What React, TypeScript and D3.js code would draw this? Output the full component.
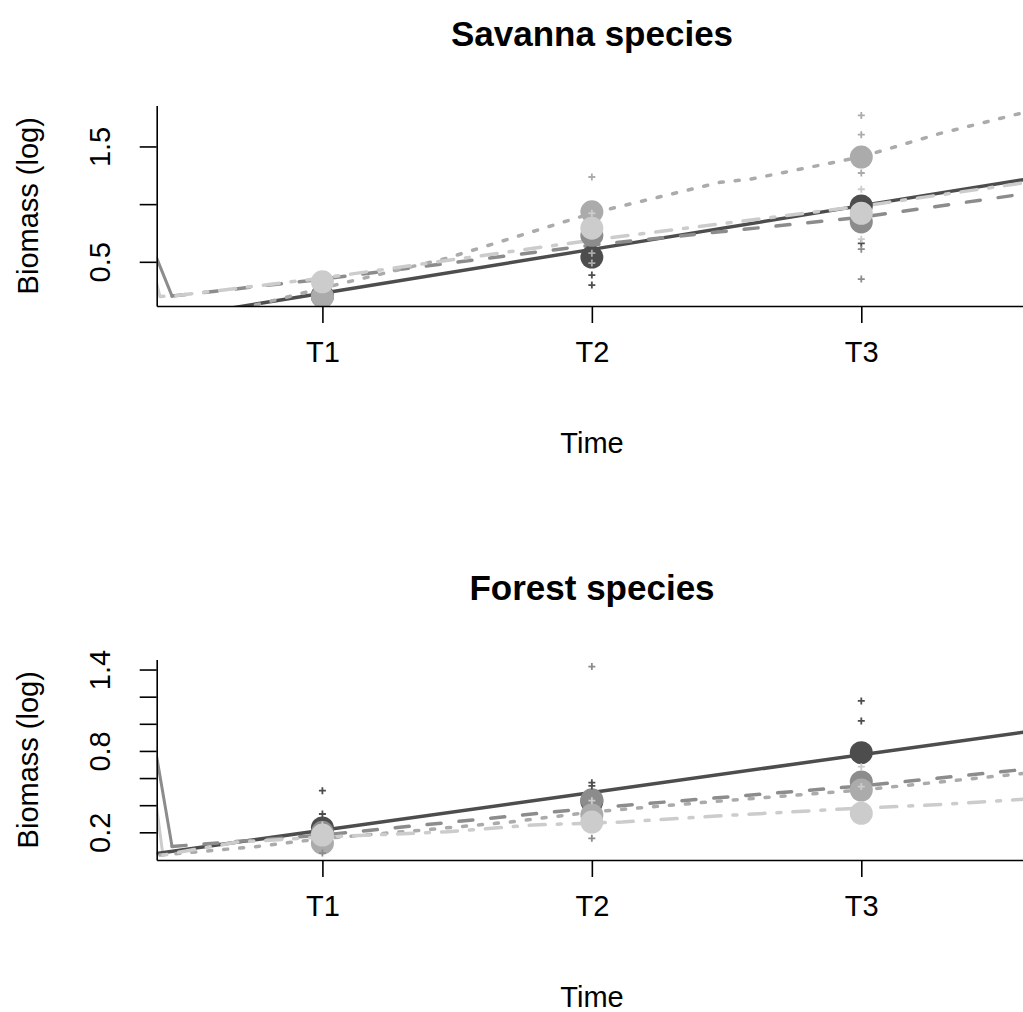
import React from "react";
import * as d3 from "d3";

type Pt = [number, number];

const timeValues = [1, 2, 3];
const timeLabels = ["T1", "T2", "T3"];
const xDomain = [0.385, 3.615];

// series order: dark solid, mid dashed, grey dotted, light dash-dot
const seriesColors = ["#4D4D4D", "#8C8C8C", "#ABABAB", "#CCCCCC"];
const seriesDash = [null, "14 18", "4 12", "4 12 16 12"];

// ---- Savanna species ----
const savannaTicks = [0.5, 1, 1.5];
const savannaTickLabels = ["0.5", "", "1.5"];

const savDarkLine: Pt[] = [[0.55, 0.057], [1, 0.228], [2, 0.608], [3, 0.987], [3.62, 1.219]];
const savMidLine: Pt[] = [[0.442, 0.203], [1, 0.35], [2, 0.645], [3, 0.887], [3.62, 1.094]];
const savDotLine: Pt[] = [[0.694, 0.091], [1, 0.272], [1.463, 0.532], [2, 0.921], [2.477, 1.19], [2.588, 1.216], [3, 1.41], [3.293, 1.613], [3.62, 1.804]];
const savLightLine: Pt[] = [[0.397, 0.2], [0.442, 0.203], [1, 0.359], [2, 0.688], [2.526, 0.843], [3, 0.982], [3.62, 1.19]];
// solid lead-in segments at the left edge
const savMidLead: Pt[] = [[0.385, 0.532], [0.442, 0.203]];
const savLightLead: Pt[] = [[0.385, 0.31], [0.397, 0.2]];

const savDarkMeans = [0.21, 0.541, 0.984];
const savMidMeans = [0.2, 0.73, 0.846];
const savDotMeans = [0.197, 0.933, 1.408];
const savLightMeans = [0.327, 0.792, 0.921];

const savDarkRaw: Pt[] = [[2, 0.385], [2, 0.298], [3, 0.659]];
const savMidRaw: Pt[] = [[3, 0.61], [3, 0.35]];
const savDotRaw: Pt[] = [[2, 1.235], [2, 0.575], [2, 0.489], [3, 1.769], [3, 1.602], [3, 1.27]];
const savLightRaw: Pt[] = [[2, 0.921], [3, 1.129], [3, 0.696]];

// ---- Forest species ----
const forestTicks = [0.2, 0.4, 0.6, 0.8, 1.0, 1.2, 1.4];
const forestTickLabels = ["0.2", "", "", "0.8", "", "", "1.4"];

const forDarkLine: Pt[] = [[0.385, 0.044], [1, 0.215], [2, 0.494], [3, 0.772], [3.62, 0.943]];
const forMidLine: Pt[] = [[0.442, 0.096], [1, 0.18], [2, 0.379], [3, 0.542], [3.62, 0.667]];
const forDotLine: Pt[] = [[0.397, 0.032], [0.75, 0.094], [1, 0.154], [1.374, 0.217], [1.697, 0.276], [2, 0.35], [2.477, 0.431], [3, 0.512], [3.62, 0.638]];
const forLightLine: Pt[] = [[0.408, 0.032], [0.683, 0.128], [1, 0.165], [1.463, 0.204], [1.783, 0.254], [2.113, 0.276], [2.533, 0.328], [2.934, 0.372], [3.257, 0.401], [3.62, 0.446]];
const forMidLead: Pt[] = [[0.385, 0.756], [0.442, 0.096]];
const forLightLead: Pt[] = [[0.385, 0.38], [0.408, 0.032]];

const forDarkMeans = [0.232, 0.43, 0.787];
const forMidMeans = [0.2, 0.44, 0.571];
const forDotMeans = [0.12, 0.328, 0.512];
const forLightMeans = [0.18, 0.276, 0.34];

const forDarkRaw: Pt[] = [[1, 0.507], [1, 0.335], [2, 0.566], [2, 0.542], [3, 1.169], [3, 1.021]];
const forMidRaw: Pt[] = [[1, 0.047], [2, 0.156], [2, 1.422]];
const forDotRaw: Pt[] = [];
const forLightRaw: Pt[] = [[1, 0.254], [2, 0.433], [3, 0.684], [3, 0.537]];

const FONT = "'Liberation Sans', Arial, Helvetica, sans-serif";
const AXIS_FONT = 29;
const TITLE_FONT = 35;

const App = () => {
  const svgRef = React.useRef<SVGSVGElement | null>(null);

  React.useEffect(() => {
    drawChart();
  }, []);

  const drawChart = () => {
    const svg = d3.select(svgRef.current);
    svg.selectAll("*").remove();

    const panels = [
      {
        key: "savanna",
        title: "Savanna species",
        oy: 0,
        yDomain: [0.117, 1.855],
        ticks: savannaTicks,
        tickLabels: savannaTickLabels,
        leads: [savMidLead, savLightLead],
        lines: [savDarkLine, savMidLine, savDotLine, savLightLine],
        means: [savDarkMeans, savMidMeans, savDotMeans, savLightMeans],
        raw: [savDarkRaw, savMidRaw, savDotRaw, savLightRaw],
      },
      {
        key: "forest",
        title: "Forest species",
        oy: 554,
        yDomain: [-0.004, 1.474],
        ticks: forestTicks,
        tickLabels: forestTickLabels,
        leads: [forMidLead, forLightLead],
        lines: [forDarkLine, forMidLine, forDotLine, forLightLine],
        means: [forDarkMeans, forMidMeans, forDotMeans, forLightMeans],
        raw: [forDarkRaw, forMidRaw, forDotRaw, forLightRaw],
      },
    ];

    const left = 156.7;
    const right = 1027;

    panels.forEach((p) => {
      const top = p.oy + 105.5;
      const bottom = p.oy + 306;
      const x = d3.scaleLinear().domain(xDomain).range([left, right]);
      const y = d3.scaleLinear().domain(p.yDomain).range([bottom, top]);

      const clipId = "clip-" + p.key;
      svg
        .append("defs")
        .append("clipPath")
        .attr("id", clipId)
        .append("rect")
        .attr("x", left)
        .attr("y", top)
        .attr("width", right - left)
        .attr("height", bottom - top);

      const plot = svg.append("g").attr("clip-path", `url(#${clipId})`);
      const line = d3
        .line<Pt>()
        .x((d) => x(d[0]))
        .y((d) => y(d[1]));

      // lead-in segments (mid grey, light grey)
      p.leads.forEach((pts, i) => {
        plot
          .append("path")
          .attr("d", line(pts))
          .attr("fill", "none")
          .attr("stroke", seriesColors[i + 1 === 1 ? 1 : 3])
          .attr("stroke-width", 3)
          .attr("stroke-linecap", "round");
      });

      p.lines.forEach((pts, i) => {
        plot
          .append("path")
          .attr("d", line(pts))
          .attr("fill", "none")
          .attr("stroke", seriesColors[i])
          .attr("stroke-width", 3.5)
          .attr("stroke-linecap", "round")
          .attr("stroke-linejoin", "round")
          .attr("stroke-dasharray", seriesDash[i]);
      });

      p.means.forEach((vals, i) => {
        plot
          .selectAll(null)
          .data(vals)
          .join("circle")
          .attr("cx", (d, j) => x(timeValues[j]))
          .attr("cy", (d) => y(d))
          .attr("r", 11.5)
          .attr("fill", seriesColors[i]);
      });

      p.raw.forEach((pts, i) => {
        plot
          .selectAll(null)
          .data(pts)
          .join("path")
          .attr("d", (d) => {
            const cx = x(d[0]);
            const cy = y(d[1]);
            return `M${cx - 3.5},${cy}h7M${cx},${cy - 3.5}v7`;
          })
          .attr("stroke", seriesColors[i])
          .attr("stroke-width", 1.8);
      });

      // axes
      const xAxis = svg
        .append("g")
        .attr("transform", `translate(0,${bottom})`)
        .call(
          d3
            .axisBottom(x)
            .tickValues(timeValues)
            .tickFormat((d, i) => timeLabels[i])
            .tickSize(17)
            .tickSizeOuter(0)
        );
      const yAxis = svg
        .append("g")
        .attr("transform", `translate(${left},0)`)
        .call(
          d3
            .axisLeft(y)
            .tickValues(p.ticks)
            .tickFormat((d, i) => p.tickLabels[i])
            .tickSize(17)
            .tickSizeOuter(0)
        );

      [xAxis, yAxis].forEach((a) => {
        a.attr("font-family", FONT).attr("font-size", AXIS_FONT);
        a.selectAll("path,line").attr("stroke", "#000").attr("stroke-width", 1.6);
        a.selectAll("text").attr("fill", "#000");
      });
      xAxis.selectAll("text").attr("y", 46).attr("dy", "0.36em");
      yAxis
        .selectAll("text")
        .attr("x", null)
        .attr("dy", null)
        .attr("text-anchor", "middle")
        .attr("transform", `translate(-56.7,0) rotate(-90) translate(0,${AXIS_FONT * 0.36})`);

      svg
        .append("text")
        .attr("x", 592)
        .attr("y", p.oy + 46)
        .attr("text-anchor", "middle")
        .attr("font-family", FONT)
        .attr("font-weight", "bold")
        .attr("font-size", TITLE_FONT)
        .text(p.title);

      svg
        .append("text")
        .attr("x", 592)
        .attr("y", p.oy + 453)
        .attr("text-anchor", "middle")
        .attr("font-family", FONT)
        .attr("font-size", AXIS_FONT)
        .text("Time");

      svg
        .append("text")
        .attr("transform", `translate(28,${(top + bottom) / 2}) rotate(-90) translate(0,${AXIS_FONT * 0.36})`)
        .attr("text-anchor", "middle")
        .attr("font-family", FONT)
        .attr("font-size", AXIS_FONT)
        .text("Biomass (log)");
    });
  };

  return (
    <svg
      ref={svgRef}
      width={1023}
      height={1012}
      style={{ position: "absolute", left: 0, top: 0, background: "#fff" }}
    />
  );
};

export default App;
